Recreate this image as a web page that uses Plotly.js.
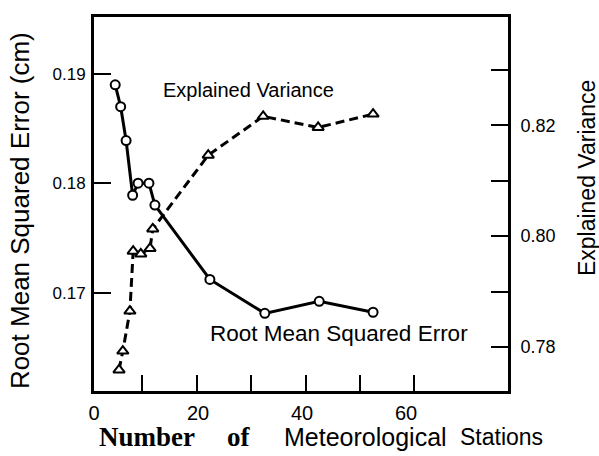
<!DOCTYPE html>
<html>
<head>
<meta charset="utf-8">
<script src="https://cdn.plot.ly/plotly-3.0.1.min.js"></script>
<style>html,body{margin:0;padding:0;background:#fff;}#chart{width:599px;height:456px;}</style>
</head>
<body>
<div id="chart"></div>
<script>
// Root mean squared error (cm) vs number of stations (circles, solid line)
var rmseStations = [5, 6, 7, 8.2, 9.2, 11.2, 12.3, 22.4, 32.5, 42.5, 52.4];
var rmseValues   = [0.1890, 0.1870, 0.1839, 0.1789, 0.1800, 0.1800, 0.1780, 0.1712, 0.1681, 0.1692, 0.1682];
// Explained variance vs number of stations (triangles, dashed line)
var evStations = [5.7, 6.4, 7.7, 8.3, 9.7, 11.4, 11.9, 22.1, 32.2, 42.3, 52.4];
var evValues   = [0.7759, 0.7793, 0.7865, 0.7973, 0.7968, 0.7978, 0.8013, 0.8146, 0.8216, 0.8196, 0.8220];
// tick labels
var xTickVals = [0, 20, 40, 60];
var xTickText = ['0', '20', '40', '60'];
var xMinorTicks = [10, 20, 30, 40, 50, 60];
var yLeftTicks = [0.17, 0.18, 0.19];
var yLeftText = ['0.17', '0.18', '0.19'];
var yRightTicks = [0.78, 0.79, 0.80, 0.81, 0.82, 0.83];
var yRightText = ['0.78', '', '0.80', '', '0.82', ''];

var sans = 'Liberation Sans, Arial, sans-serif';
var narrow = 'Liberation Sans Narrow, Arial Narrow, Liberation Sans, sans-serif';
var serif = 'Liberation Serif, Times New Roman, serif';
var traces = [
  {x: rmseStations, y: rmseValues, xaxis: 'x', yaxis: 'y', mode: 'lines+markers', name: 'Root Mean Squared Error',
   line: {color: '#000', width: 3},
   marker: {symbol: 'circle', size: 9, color: '#fff', line: {color: '#000', width: 2}}},
  {x: evStations, y: evValues, xaxis: 'x', yaxis: 'y2', mode: 'lines+markers', name: 'Explained Variance',
   line: {color: '#000', width: 3, dash: '9px,5px'},
   marker: {symbol: 'triangle-up', size: 10, color: '#fff', line: {color: '#000', width: 2}}},
  {x: [0, 60], y: [0.17, 0.17], xaxis: 'x2', yaxis: 'y', mode: 'markers', marker: {opacity: 0}, hoverinfo: 'skip', showlegend: false}
];

var layout = {
  width: 599, height: 456,
  margin: {l: 94, r: 91, t: 17, b: 65},
  paper_bgcolor: '#fff', plot_bgcolor: '#fff',
  showlegend: false,
  font: {family: sans, color: '#000'},
  xaxis: {range: [1.1, 77.2], tickmode: 'array', tickvals: xMinorTicks, ticks: 'inside', ticklen: 16, tickwidth: 2,
          tickcolor: '#000', showticklabels: false, showline: true, linewidth: 3, linecolor: '#000', mirror: true,
          showgrid: false, zeroline: false},
  xaxis2: {overlaying: 'x', anchor: 'y', side: 'bottom', range: [0, 79.6], tickmode: 'array', tickvals: xTickVals,
           ticktext: xTickText, ticks: '', showline: false, showgrid: false, zeroline: false,
           ticklabelstandoff: 8, tickfont: {size: 20, family: narrow}},
  yaxis: {range: [0.161, 0.1952], tickmode: 'array', tickvals: yLeftTicks, ticktext: yLeftText, ticks: 'inside',
          ticklen: 17, tickwidth: 2, tickcolor: '#000', showline: true, linewidth: 3, linecolor: '#000',
          showgrid: false, zeroline: false, tickfont: {size: 17, family: sans}, ticklabelstandoff: 2},
  yaxis2: {overlaying: 'y', side: 'right', anchor: 'x', range: [0.7721, 0.8395], tickmode: 'array',
           tickvals: yRightTicks, ticktext: yRightText, ticks: 'inside', ticklen: 17, tickwidth: 2, tickcolor: '#000',
           showline: true, linewidth: 3, linecolor: '#000', showgrid: false, zeroline: false,
           tickfont: {size: 18, family: sans}, ticklabelstandoff: 6},
  annotations: [
    {xref: 'paper', yref: 'paper', x: -0.1787, y: 0.481, text: 'Root Mean Squared Error (cm)', showarrow: false,
     textangle: -90, font: {size: 26, family: sans}, xanchor: 'center', yanchor: 'middle'},
    {xref: 'paper', yref: 'paper', x: 1.191, y: 0.5695, text: 'Explained Variance', showarrow: false,
     textangle: -90, font: {size: 23, family: sans}, xanchor: 'center', yanchor: 'middle'},
    {xref: 'paper', yref: 'paper', x: 0.372, y: 0.805, text: 'Explained Variance', showarrow: false,
     font: {size: 20, family: sans}, xanchor: 'center', yanchor: 'middle'},
    {xref: 'paper', yref: 'paper', x: 0.592, y: 0.155, text: 'Root Mean Squared Error', showarrow: false,
     font: {size: 22.5, family: sans}, xanchor: 'center', yanchor: 'middle'},
    {xref: 'paper', yref: 'paper', x: 0.007, y: -0.123, text: '<b>Number</b>', showarrow: false,
     font: {size: 27, family: serif}, xanchor: 'left', yanchor: 'middle'},
    {xref: 'paper', yref: 'paper', x: 0.316, y: -0.123, text: '<b>of</b>', showarrow: false,
     font: {size: 27, family: serif}, xanchor: 'left', yanchor: 'middle'},
    {xref: 'paper', yref: 'paper', x: 0.454, y: -0.123, text: 'Meteorological', showarrow: false,
     font: {size: 25, family: sans}, xanchor: 'left', yanchor: 'middle'},
    {xref: 'paper', yref: 'paper', x: 0.879, y: -0.123, text: 'Stations', showarrow: false,
     font: {size: 23, family: sans}, xanchor: 'left', yanchor: 'middle'}
  ]
};

Plotly.newPlot('chart', traces, layout, {displayModeBar: false, staticPlot: true});
</script>
</body>
</html>
